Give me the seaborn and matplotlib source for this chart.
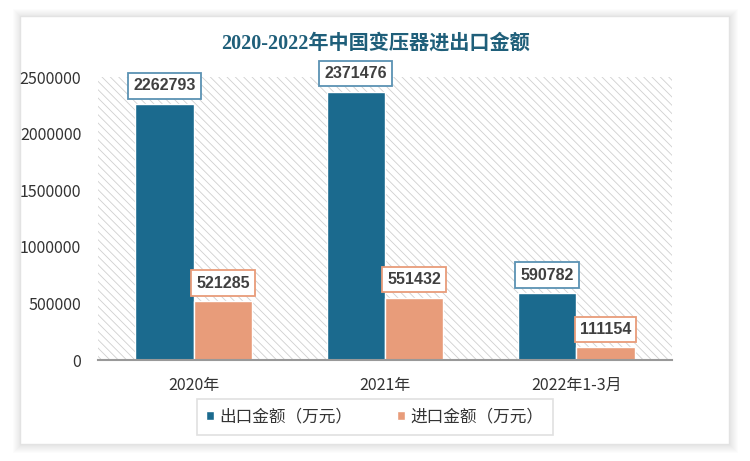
import matplotlib
matplotlib.use("Agg")
import matplotlib.pyplot as plt
import seaborn as sns
import pandas as pd
from matplotlib.patches import Rectangle

categories = ["2020年", "2021年", "2022年1-3月"]
export_vals = [2262793, 2371476, 590782]
import_vals = [521285, 551432, 111154]
series_names = ["出口金额（万元）", "进口金额（万元）"]
colors = ["#1B6A8E", "#E89C7A"]
box_edges = ["#5B92B3", "#E89C7A"]
title = "2020-2022年中国变压器进出口金额"

df = pd.DataFrame({
    "cat": categories * 2,
    "val": export_vals + import_vals,
    "series": [series_names[0]] * 3 + [series_names[1]] * 3,
})

sns.set_theme(style="white")
plt.rcParams['font.family'] = ['Noto Sans CJK SC', 'DejaVu Sans']
plt.rcParams['hatch.linewidth'] = 0.6

fig = plt.figure(figsize=(7.5, 4.61), dpi=100)
fig.patch.set_facecolor("white")

# card with soft shadow
W, H = 750, 461
x0, y0, w, h = 20, 17, 709, 428
for i in range(8):
    d = i + 1
    fig.patches.append(Rectangle(((x0 - d + 1)/W, (y0 - d - 1)/H), (w + 2*d)/W, (h + 2*d)/H,
                                 transform=fig.transFigure, facecolor="black", alpha=0.012,
                                 lw=0, zorder=-3))
fig.patches.append(Rectangle((x0/W, y0/H), w/W, h/H, transform=fig.transFigure,
                             facecolor="white", edgecolor="#e3e3e3", lw=1, zorder=-2))

ax = fig.add_axes([98/W, (H-360)/H, 574/W, 283/H])
ax.set_zorder(2)
ax.set_facecolor("none")
ax.add_patch(Rectangle((0, 0), 1, 1, transform=ax.transAxes, facecolor="white",
                       edgecolor="#d0d0d0", hatch="\\\\\\\\", lw=0, zorder=0))

sns.barplot(data=df, x="cat", y="val", hue="series", palette=colors, ax=ax,
            width=0.61, saturation=1, edgecolor="white", linewidth=1, zorder=2)

ax.set_xlim(-0.5, 2.5)
ax.set_ylim(0, 2500000)
ax.set_yticks(range(0, 2500001, 500000))
ax.set_yticklabels([str(v) for v in range(0, 2500001, 500000)])
ax.set_xlabel("")
ax.set_ylabel("")
ax.tick_params(axis="both", length=0, labelsize=11.5, colors="#333333")
ax.tick_params(axis="x", pad=12)
ax.tick_params(axis="y", pad=12)
for s in ["top", "right", "left"]:
    ax.spines[s].set_visible(False)
ax.spines["bottom"].set_color("#999999")
ax.spines["bottom"].set_linewidth(1.5)
ax.spines["bottom"].set_zorder(3)

for cont, col in zip(ax.containers, box_edges):
    for bar in cont:
        hv = bar.get_height()
        ax.annotate(f"{int(hv)}", (bar.get_x() + bar.get_width()/2, hv),
                    xytext=(0, 7.5), textcoords="offset points", ha="center", va="bottom",
                    fontsize=11.5, fontweight="bold", color="#404040",
                    family=["Liberation Sans", "DejaVu Sans"],
                    bbox=dict(boxstyle="square,pad=0.33", facecolor="white", edgecolor=col, lw=1.3),
                    zorder=5, annotation_clip=False)

leg = ax.legend(loc="center", bbox_to_anchor=(277/574, (360-417)/283), ncol=2, frameon=True,
                fancybox=False, edgecolor="#d9d9d9", fontsize=12, handlelength=0.45,
                handleheight=0.45, handletextpad=0.35, columnspacing=2.7, borderpad=0.55)
leg.get_frame().set_linewidth(1.2)
for t in leg.get_texts():
    t.set_color("#333333")

fig.text(375/W, (H-44)/H, title, ha="center", va="center", fontsize=14.5, fontweight="bold",
         color="#1F5F7A", family=["Liberation Serif", "Noto Sans CJK SC"])

fig.savefig("out.png", dpi=100)
